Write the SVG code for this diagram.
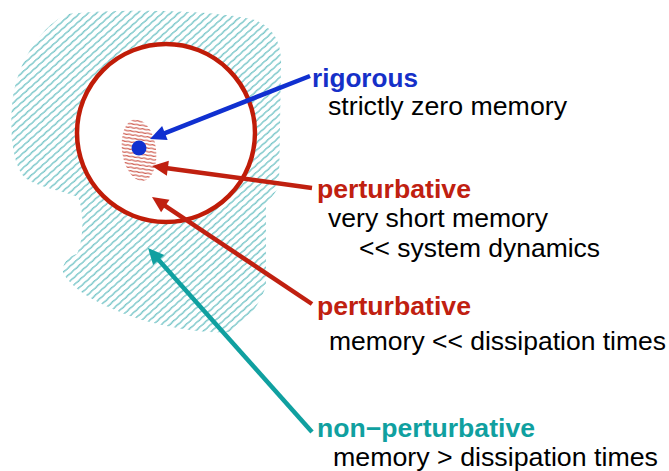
<svg xmlns="http://www.w3.org/2000/svg" width="669" height="471" viewBox="0 0 669 471">
<style>
.lbl{font-family:"Liberation Sans",Arial,sans-serif;font-size:25px;fill:#000}
.b{font-weight:bold}
.conn{fill:none;stroke-width:4.5}
</style>
<defs>
<pattern id="cyanHatch" patternUnits="userSpaceOnUse" width="16" height="5.5" patternTransform="rotate(-42)">
<path d="M0,2.75 q2,-0.4 4,0 t4,0 t4,0 t4,0" fill="none" stroke="#1e9fa4" stroke-width="0.9"/>
</pattern>
<pattern id="redHatch" patternUnits="userSpaceOnUse" width="12" height="3.6" patternTransform="rotate(16)">
<path d="M0,1.8 q1.5,-0.4 3,0 t3,0 t3,0 t3,0" fill="none" stroke="#c02c1c" stroke-width="1"/>
</pattern>
<marker id="ahBlue" markerUnits="userSpaceOnUse" markerWidth="32" markerHeight="20" viewBox="-20 -10 32 20" refX="0" refY="0" orient="auto"><path d="M10,0 L-6,-7.5 L-6,7.5 Z" fill="#1030d0"/></marker>
<marker id="ahRed" markerUnits="userSpaceOnUse" markerWidth="32" markerHeight="20" viewBox="-20 -10 32 20" refX="0" refY="0" orient="auto"><path d="M10,0 L-6,-7.5 L-6,7.5 Z" fill="#c02010"/></marker>
<marker id="ahCyan" markerUnits="userSpaceOnUse" markerWidth="32" markerHeight="20" viewBox="-20 -10 32 20" refX="0" refY="0" orient="auto"><path d="M10,0 L-6,-7.5 L-6,7.5 Z" fill="#10a0a0"/></marker>
</defs>
<rect width="669" height="471" fill="#fff"/>
<g id="region-nonperturbative">
<path d="M67,14 C120,8 220,10 255,20 C275,28 282,45 281,65 L279,185 C276,195 268,198 266,205 L266,285 C262,300 250,320 230,332 C200,334 150,325 120,312 C95,302 70,288 63,272 C62,262 70,256 77,254 C84,240 84,210 78,197 C60,190 40,188 25,178 C12,165 10,130 12,105 C15,70 35,30 67,14 Z" fill="url(#cyanHatch)"/>
</g>
<g id="region-perturbative">
<circle cx="166" cy="133" r="89" fill="#fff" stroke="#c01c08" stroke-width="4.5"/>
</g>
<g id="region-veryshort">
<ellipse cx="139" cy="150" rx="17" ry="31" transform="rotate(-8 139 150)" fill="url(#redHatch)"/>
</g>
<g id="region-rigorous">
<circle cx="139" cy="148" r="7.5" fill="#1030d0"/>
</g>
<g id="connectors">
<line class="conn" x1="310" y1="76" x2="159.3" y2="135.3" stroke="#1030d0" marker-end="url(#ahBlue)"/>
<line class="conn" x1="312" y1="188" x2="161.9" y2="167.4" stroke="#c02010" marker-end="url(#ahRed)"/>
<line class="conn" x1="312" y1="304" x2="160.3" y2="202.6" stroke="#c02010" marker-end="url(#ahRed)"/>
<line class="conn" x1="312" y1="432" x2="154.7" y2="255.5" stroke="#10a0a0" marker-end="url(#ahCyan)"/>
</g>
<g id="label-rigorous">
<text class="lbl b" x="312" y="87" style="fill:#1530c8" textLength="106" lengthAdjust="spacingAndGlyphs">rigorous</text>
<text class="lbl" x="328" y="115" textLength="239" lengthAdjust="spacingAndGlyphs">strictly zero memory</text>
</g>
<g id="label-perturbative1">
<text class="lbl b" x="317" y="198" style="fill:#c02010" textLength="154" lengthAdjust="spacingAndGlyphs">perturbative</text>
<text class="lbl" x="328" y="227" textLength="220" lengthAdjust="spacingAndGlyphs">very short memory</text>
<text class="lbl" x="359" y="257" textLength="241" lengthAdjust="spacingAndGlyphs">&lt;&lt; system dynamics</text>
</g>
<g id="label-perturbative2">
<text class="lbl b" x="317" y="315" style="fill:#c02010" textLength="154" lengthAdjust="spacingAndGlyphs">perturbative</text>
<text class="lbl" x="329" y="350" textLength="337" lengthAdjust="spacingAndGlyphs">memory &lt;&lt; dissipation times</text>
</g>
<g id="label-nonperturbative">
<text class="lbl b" x="317" y="437" style="fill:#10a0a0" textLength="218" lengthAdjust="spacingAndGlyphs">non−perturbative</text>
<text class="lbl" x="333" y="466" textLength="325" lengthAdjust="spacingAndGlyphs">memory &gt; dissipation times</text>
</g>
</svg>
